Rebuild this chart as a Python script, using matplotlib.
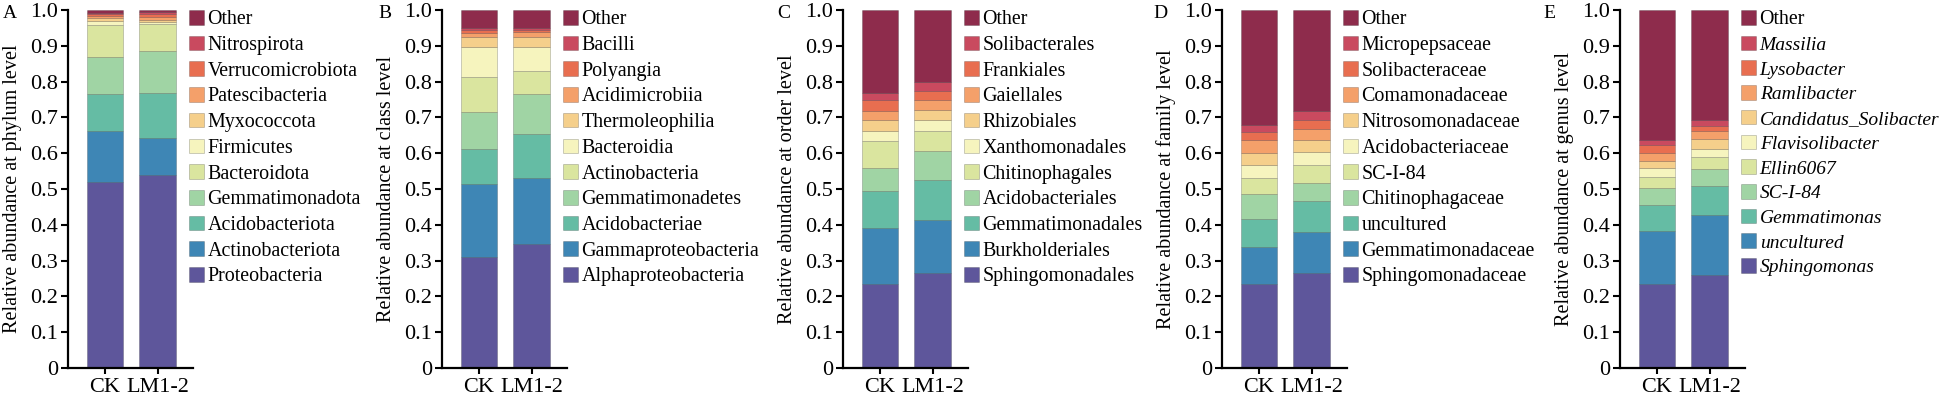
import matplotlib

matplotlib.use("Agg")
import matplotlib.pyplot as plt

plt.rcParams["font.family"] = "serif"
plt.rcParams["font.serif"] = ["Liberation Serif", "DejaVu Serif"]

samples = ["CK", "LM1-2"]

# bottom -> top, "Other" last
colors = ["#5E569B", "#3E86B5", "#65BCA4", "#A0D4A4", "#DAE59F", "#F6F4BE",
          "#F5CF8B", "#F4A06A", "#E86E50", "#C94A5F", "#8E2C4C"]

phylum_taxa = ["Proteobacteria", "Actinobacteriota", "Acidobacteriota", "Gemmatimonadota",
               "Bacteroidota", "Firmicutes", "Myxococcota", "Patescibacteria",
               "Verrucomicrobiota", "Nitrospirota", "Other"]
phylum_ck = [0.520, 0.141, 0.103, 0.106, 0.088, 0.012, 0.007, 0.007, 0.005, 0.004, 0.007]
phylum_lm = [0.538, 0.104, 0.127, 0.117, 0.074, 0.006, 0.007, 0.008, 0.007, 0.006, 0.006]

class_taxa = ["Alphaproteobacteria", "Gammaproteobacteria", "Acidobacteriae", "Gemmatimonadetes",
              "Actinobacteria", "Bacteroidia", "Thermoleophilia", "Acidimicrobiia",
              "Polyangia", "Bacilli", "Other"]
class_ck = [0.310, 0.204, 0.097, 0.103, 0.098, 0.084, 0.029, 0.012, 0.007, 0.006, 0.050]
class_lm = [0.345, 0.186, 0.122, 0.112, 0.064, 0.068, 0.028, 0.013, 0.007, 0.005, 0.050]

order_taxa = ["Sphingomonadales", "Burkholderiales", "Gemmatimonadales", "Acidobacteriales",
              "Chitinophagales", "Xanthomonadales", "Rhizobiales", "Gaiellales",
              "Frankiales", "Solibacterales", "Other"]
order_ck = [0.236, 0.155, 0.103, 0.066, 0.073, 0.028, 0.031, 0.027, 0.029, 0.020, 0.232]
order_lm = [0.266, 0.147, 0.113, 0.080, 0.056, 0.030, 0.030, 0.026, 0.026, 0.024, 0.202]

family_taxa = ["Sphingomonadaceae", "Gemmatimonadaceae", "uncultured", "Chitinophagaceae",
               "SC-I-84", "Acidobacteriaceae", "Nitrosomonadaceae", "Comamonadaceae",
               "Solibacteraceae", "Micropepsaceae", "Other"]
family_ck = [0.236, 0.102, 0.077, 0.070, 0.047, 0.034, 0.034, 0.036, 0.023, 0.019, 0.322]
family_lm = [0.266, 0.115, 0.086, 0.051, 0.048, 0.037, 0.033, 0.031, 0.027, 0.024, 0.282]

genus_taxa = ["Sphingomonas", "uncultured", "Gemmatimonas", "SC-I-84", "Ellin6067",
              "Flavisolibacter", "Candidatus_Solibacter", "Ramlibacter", "Lysobacter",
              "Massilia", "Other"]
genus_ck = [0.234, 0.149, 0.071, 0.048, 0.032, 0.025, 0.019, 0.023, 0.021, 0.014, 0.364]
genus_lm = [0.261, 0.165, 0.082, 0.048, 0.032, 0.025, 0.028, 0.020, 0.015, 0.016, 0.308]

panels = [
    ("A", "phylum", phylum_taxa, phylum_ck, phylum_lm, False),
    ("B", "class", class_taxa, class_ck, class_lm, False),
    ("C", "order", order_taxa, order_ck, order_lm, False),
    ("D", "family", family_taxa, family_ck, family_lm, False),
    ("E", "genus", genus_taxa, genus_ck, genus_lm, True),
]

W, H = 1949, 399
axis_left_px = [68, 442, 843, 1222, 1620]
letter_px = [3, 378, 777, 1153, 1543]

fig = plt.figure(figsize=(W / 100, H / 100), dpi=100)

for (letter, level, taxa, ck, lm, italic), xl, xlet in zip(panels, axis_left_px, letter_px):
    ax = fig.add_axes([xl / W, 31 / H, 125 / W, 358 / H])
    bottoms = [0.0, 0.0]
    handles = []
    for name, c, v1, v2 in zip(taxa, colors, ck, lm):
        bars = ax.bar([0, 1], [v1, v2], bottom=bottoms, width=0.69, color=c,
                      edgecolor=(0, 0, 0, 0.22), linewidth=0.6, label=name)
        bottoms = [bottoms[0] + v1, bottoms[1] + v2]
        handles.append(bars)
    ax.set_xlim(-0.705, 1.676)
    ax.set_ylim(0, 1.0)
    ax.set_yticks([i / 10 for i in range(11)])
    ax.set_yticklabels(["0"] + [f"{i / 10:.1f}" for i in range(1, 11)])
    ax.set_xticks([0, 1])
    ax.set_xticklabels(samples)
    ax.tick_params(axis="y", labelsize=16, length=5, width=1.5, direction="out", pad=2)
    ax.tick_params(axis="x", labelsize=16, length=4, width=1.5, direction="out", pad=3)
    for s in ("top", "right"):
        ax.spines[s].set_visible(False)
    for s in ("left", "bottom"):
        ax.spines[s].set_linewidth(1.6)
    ax.set_ylabel(f"Relative abundance at {level} level", fontsize=14.5)
    ax.yaxis.set_label_coords(-0.37, 0.5)

    leg = ax.legend(handles[::-1], taxa[::-1], loc="upper left", bbox_to_anchor=(0.965, 1.0),
                    frameon=False, fontsize=14.4, borderpad=0, borderaxespad=0,
                    handlelength=0.75, handleheight=0.75, handletextpad=0.2,
                    labelspacing=0.32)
    if italic:
        for t in leg.get_texts()[1:]:
            t.set_fontstyle("italic")
            t.set_fontsize(14)

    fig.text(xlet / W, 1 - 5 / H, letter, fontsize=14, va="top", ha="left")

fig.savefig("out.png", dpi=100)
